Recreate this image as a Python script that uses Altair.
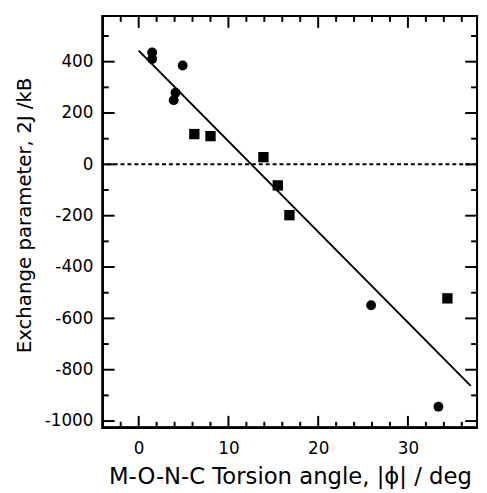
import altair as alt
import pandas as pd

# Data
circle_x = [1.5, 1.5, 4.9, 4.1, 3.9, 25.9, 33.4]
circle_y = [436, 410, 385, 279, 250, -549, -944]
square_x = [6.2, 8.0, 13.9, 15.5, 16.8, 34.4]
square_y = [118, 110, 28, -82, -198, -522]
fit_x = [0.0, 37.0]
fit_y = [443, -863]

x_major = [0, 10, 20, 30]
x_minor = [v for v in range(-2, 37, 2) if v % 10 != 0]
y_major = [-1000, -800, -600, -400, -200, 0, 200, 400]
y_minor = [v for v in range(-900, 501, 200)]

W, H = 379, 417
XD = [-4.0, 37.7]
YD = [-1026, 578]
FONT = "DejaVu Sans"

xs = alt.Scale(domain=XD, nice=False, zero=False)
ys = alt.Scale(domain=YD, nice=False, zero=False)

circles = pd.DataFrame({"x": circle_x, "y": circle_y})
squares = pd.DataFrame({"x": square_x, "y": square_y})
fit = pd.DataFrame({"x": fit_x, "y": fit_y})

xaxis = alt.Axis(values=x_major, ticks=False, domain=False, grid=False,
                 labelExpr="'' + datum.value",
                 labelFont=FONT, labelFontSize=17, labelColor="black", labelPadding=13,
                 title="M-O-N-C Torsion angle, |ϕ| / deg", titleFont=FONT,
                 titleFontSize=23, titleFontWeight="normal", titleColor="black",
                 titleBaseline="alphabetic", titleY=56)
yaxis = alt.Axis(values=y_major, ticks=False, domain=False, grid=False,
                 labelExpr="'' + datum.value",
                 labelFont=FONT, labelFontSize=17, labelColor="black", labelPadding=10,
                 title="Exchange parameter, 2J /kB", titleFont=FONT,
                 titleFontSize=20, titleFontWeight="normal", titleColor="black",
                 titleBaseline="alphabetic", titleX=-73, titleY=H / 2 - 7)

base_axes = alt.Chart(circles).mark_point(opacity=0).encode(
    x=alt.X("x:Q", scale=xs, axis=xaxis),
    y=alt.Y("y:Q", scale=ys, axis=yaxis),
)

frame = alt.Chart(circles).mark_rect(filled=False, stroke="black", strokeWidth=2,
                                      fill=None).encode(
    x=alt.value(0), x2=alt.value(W), y=alt.value(0), y2=alt.value(H))

zero_line = alt.Chart(pd.DataFrame({"y": [0]})).mark_rule(
    color="black", strokeWidth=2, strokeDash=[4, 3]
).encode(y=alt.Y("y:Q", scale=ys))

fit_line = alt.Chart(fit).mark_line(color="black", strokeWidth=2).encode(
    x=alt.X("x:Q", scale=xs), y=alt.Y("y:Q", scale=ys))

circ = alt.Chart(circles).mark_point(shape="circle", filled=True, color="black",
                                      size=100, opacity=1).encode(
    x=alt.X("x:Q", scale=xs), y=alt.Y("y:Q", scale=ys))

sq = alt.Chart(squares).mark_point(shape="square", filled=True, color="black",
                                    size=110, opacity=1).encode(
    x=alt.X("x:Q", scale=xs), y=alt.Y("y:Q", scale=ys))


def xticks(vals, length):
    df = pd.DataFrame({"x": vals})
    bot = alt.Chart(df).mark_rule(color="black", strokeWidth=2).encode(
        x=alt.X("x:Q", scale=xs), y=alt.value(H), y2=alt.value(H - length))
    top = alt.Chart(df).mark_rule(color="black", strokeWidth=2).encode(
        x=alt.X("x:Q", scale=xs), y=alt.value(0), y2=alt.value(length))
    return [bot, top]


def yticks(vals, length):
    df = pd.DataFrame({"y": vals})
    left = alt.Chart(df).mark_rule(color="black", strokeWidth=2).encode(
        y=alt.Y("y:Q", scale=ys), x=alt.value(0), x2=alt.value(length))
    right = alt.Chart(df).mark_rule(color="black", strokeWidth=2).encode(
        y=alt.Y("y:Q", scale=ys), x=alt.value(W), x2=alt.value(W - length))
    return [left, right]


layers = [base_axes, zero_line, fit_line, circ, sq]
layers += xticks(x_major, 12) + xticks(x_minor, 6)
layers += yticks(y_major, 12) + yticks(y_minor, 6)
layers += [frame]

chart = alt.layer(*layers).properties(
    width=W, height=H,
    autosize=alt.AutoSizeParams(type="none"),
    padding={"left": 96, "top": 5, "right": 2, "bottom": 62},
).configure_view(stroke=None).configure(background="white")

chart.save("out.html", embed_options={"renderer": "svg", "actions": False})
